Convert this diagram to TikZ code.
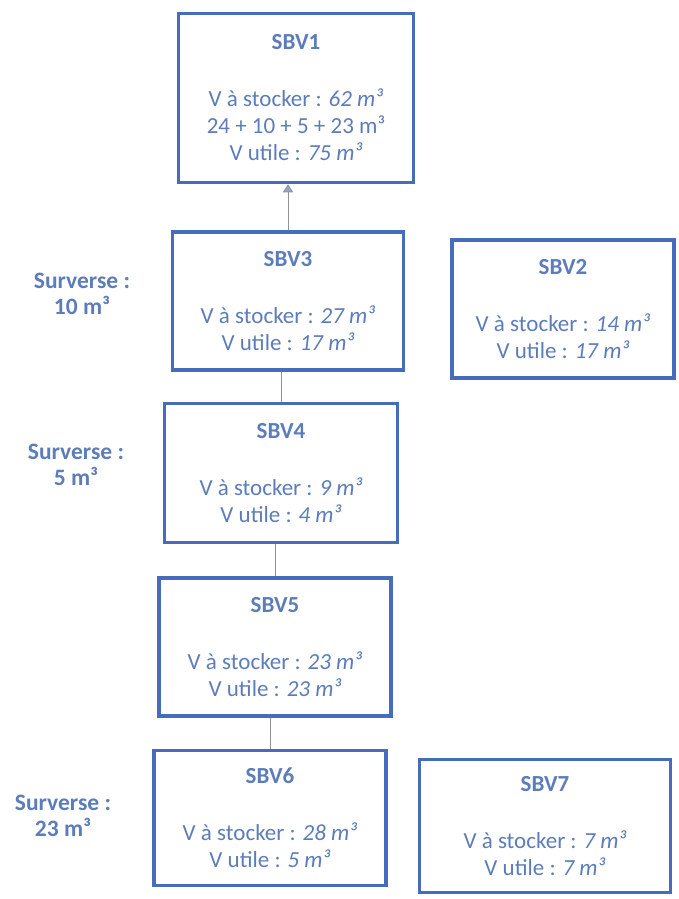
\documentclass[tikz,border=0pt]{standalone}
\usepackage{fontspec}
\setmainfont{Carlito}
\usetikzlibrary{arrows.meta}
\definecolor{boxblue}{RGB}{72,108,188}
\definecolor{txtblue}{RGB}{92,124,186}
\tikzstyle{sbv}=[draw=boxblue, line width=3.5pt, align=center, text=txtblue, inner sep=0pt, font=\fontsize{23}{27}\selectfont]
\tikzstyle{surverse}=[align=center, text=txtblue, font=\fontsize{23.5}{26}\selectfont\bfseries]
\tikzstyle{link}=[draw=gray!85, line width=1pt]
\newcommand{\sbv}{\node[sbv]}
\newcommand{\titre}[1]{{\fontsize{23}{27}\selectfont\textbf{#1}}\\[30pt]}

\begin{document}
\begin{tikzpicture}[x=1pt, y=-1pt]
\useasboundingbox (0,0) rectangle (678,899);
\sbv (sbv1) at (296,98) [minimum width=235pt, minimum height=169pt] {\titre{SBV1}V à stocker : \textit{62 m³}\\24 + 10 + 5 + 23 m³\\V utile : \textit{75 m³}};
\sbv (sbv3) at (288,301) [minimum width=231pt, minimum height=138pt] {\titre{SBV3}V à stocker : \textit{27 m³}\\V utile : \textit{17 m³}};
\sbv (sbv2) at (563,309) [minimum width=222pt, minimum height=138pt] {\titre{SBV2}V à stocker : \textit{14 m³}\\V utile : \textit{17 m³}};
\sbv (sbv4) at (281,473) [minimum width=233pt, minimum height=139pt] {\titre{SBV4}V à stocker : \textit{9 m³}\\V utile : \textit{4 m³}};
\sbv (sbv5) at (275,647) [minimum width=232pt, minimum height=138pt] {\titre{SBV5}V à stocker : \textit{23 m³}\\V utile : \textit{23 m³}};
\sbv (sbv6) at (270,818) [minimum width=232pt, minimum height=135pt] {\titre{SBV6}V à stocker : \textit{28 m³}\\V utile : \textit{5 m³}};
\sbv (sbv7) at (545,826) [minimum width=251pt, minimum height=133pt] {\titre{SBV7}V à stocker : \textit{7 m³}\\V utile : \textit{7 m³}};
\node[surverse] (s3) at (82,294) {Surverse :\\10 m³};
\node[surverse] (s4) at (76,465) {Surverse :\\5 m³};
\node[surverse] (s6) at (63,816) {Surverse :\\23 m³};
\draw[link, -{Triangle[width=10pt, length=8pt, fill=boxblue!60]}] (sbv3.north) -- (sbv3.north |- sbv1.south);
\draw[link] (sbv4.north) -- (sbv4.north |- sbv3.south);
\draw[link] (sbv5.north) -- (sbv5.north |- sbv4.south);
\draw[link] (sbv6.north) -- (sbv6.north |- sbv5.south);
\end{tikzpicture}
\end{document}
